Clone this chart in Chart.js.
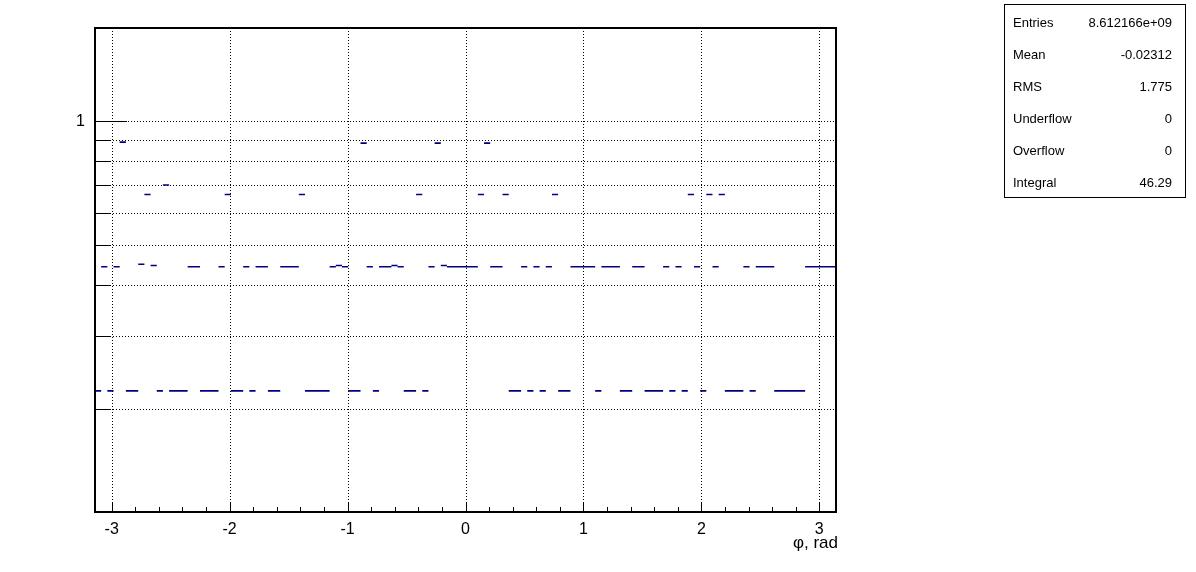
<!DOCTYPE html>
<html>
<head>
<meta charset="utf-8">
<script src="https://cdn.jsdelivr.net/npm/chart.js@4.4.1/dist/chart.umd.min.js"></script>
<style>
    body { margin: 0; background: #ffffff; }
    canvas { display: block; }
</style>
</head>
<body>
<canvas id="chart" width="1196" height="572"></canvas>
<script>
// Histogram binning: 120 bins over [-pi, pi]
const xMin = -Math.PI;
const xMax = Math.PI;
const nBins = 120;

// Bin contents (log y axis)
const binContents = [
    0.221, 0.443, 0.221, 0.443, 0.890, 0.221, 0.221, 0.449, 0.664, 0.446,
    0.221, 0.700, 0.221, 0.221, 0.221, 0.443, 0.443, 0.221, 0.221, 0.221,
    0.443, 0.664, 0.221, 0.221, 0.443, 0.221, 0.443, 0.443, 0.221, 0.221,
    0.443, 0.443, 0.443, 0.664, 0.221, 0.221, 0.221, 0.221, 0.443, 0.446,
    0.443, 0.221, 0.221, 0.885, 0.443, 0.221, 0.443, 0.443, 0.446, 0.443,
    0.221, 0.221, 0.664, 0.221, 0.443, 0.885, 0.446, 0.443, 0.443, 0.443,
    0.443, 0.443, 0.664, 0.885, 0.443, 0.443, 0.664, 0.221, 0.221, 0.443,
    0.221, 0.443, 0.221, 0.443, 0.664, 0.221, 0.221, 0.443, 0.443, 0.443,
    0.443, 0.221, 0.443, 0.443, 0.443, 0.221, 0.221, 0.443, 0.443, 0.221,
    0.221, 0.221, 0.443, 0.221, 0.443, 0.221, 0.664, 0.443, 0.221, 0.664,
    0.443, 0.664, 0.221, 0.221, 0.221, 0.443, 0.221, 0.443, 0.443, 0.443,
    0.221, 0.221, 0.221, 0.221, 0.221, 0.443, 0.443, 0.443, 0.443, 0.443
];

// Axis ticks
const xMajorTicks = [-3, -2, -1, 0, 1, 2, 3];
const xMinorStep = 0.2;
const yTicks = [0.2, 0.3, 0.4, 0.5, 0.6, 0.7, 0.8, 0.9, 1];
const yLabelled = [1];
const yMin = 0.1122;
const yMax = 1.686;
const xTitle = '\u03c6, rad';

// Stats box
const statsLabels = ['Entries', 'Mean', 'RMS', 'Underflow', 'Overflow', 'Integral'];
const statsValues = ['8.612166e+09', '-0.02312', '1.775', '0', '0', '46.29'];

const FONT = '"Liberation Sans", Arial, Helvetica, sans-serif';
const LINE_COLOR = '#000080';

// Each bin becomes a horizontal segment from its low edge to its high edge
const binWidth = (xMax - xMin) / nBins;
const segmentPoints = [];
binContents.forEach((v, i) => {
    if (!v) return;
    const lo = xMin + i * binWidth;
    const hi = lo + binWidth;
    segmentPoints.push({ x: lo, y: v }, { x: hi, y: v }, { x: hi, y: null });
});

// Frame, grid, ticks, stats box
const rootStyle = {
    id: 'rootStyle',
    beforeDatasetsDraw(chart) {
        const { ctx, chartArea: a, scales: { x, y } } = chart;
        ctx.save();
        ctx.strokeStyle = '#000';
        ctx.lineWidth = 1;
        ctx.setLineDash([1, 2]);
        xMajorTicks.forEach(t => {
            const px = Math.round(x.getPixelForValue(t)) + 0.5;
            ctx.beginPath();
            ctx.moveTo(px, a.top);
            ctx.lineTo(px, a.bottom);
            ctx.stroke();
        });
        yTicks.forEach(t => {
            const py = Math.round(y.getPixelForValue(t)) + 0.5;
            ctx.beginPath();
            ctx.moveTo(a.left, py);
            ctx.lineTo(a.right, py);
            ctx.stroke();
        });
        ctx.restore();
    },
    afterDraw(chart) {
        const { ctx, chartArea: a, scales: { x, y } } = chart;
        ctx.save();
        ctx.strokeStyle = '#000';
        ctx.setLineDash([]);

        // tick marks, inside the frame
        ctx.lineWidth = 1;
        ctx.beginPath();
        for (let t = -3; t <= 3.001; t += xMinorStep) {
            const px = Math.round(x.getPixelForValue(t)) + 0.5;
            const major = Math.abs(t - Math.round(t)) < 1e-6;
            ctx.moveTo(px, a.bottom);
            ctx.lineTo(px, a.bottom - (major ? 10 : 5));
        }
        yTicks.forEach(t => {
            const py = Math.round(y.getPixelForValue(t)) + 0.5;
            ctx.moveTo(a.left, py);
            ctx.lineTo(a.left + (yLabelled.includes(t) ? 32 : 16), py);
        });
        ctx.stroke();

        // frame
        ctx.lineWidth = 2;
        ctx.strokeRect(a.left, a.top, a.right - a.left, a.bottom - a.top);

        // axis title
        ctx.fillStyle = '#000';
        ctx.font = '17px ' + FONT;
        ctx.textAlign = 'right';
        ctx.textBaseline = 'alphabetic';
        ctx.fillText(xTitle, 838, 548);

        // stats box
        ctx.lineWidth = 1;
        ctx.fillStyle = '#fff';
        ctx.fillRect(1004.5, 4.5, 181, 193);
        ctx.strokeRect(1004.5, 4.5, 181, 193);
        ctx.fillStyle = '#000';
        ctx.font = '13px ' + FONT;
        ctx.textBaseline = 'middle';
        statsLabels.forEach((lab, i) => {
            const ty = 23 + i * 32;
            ctx.textAlign = 'left';
            ctx.fillText(lab, 1013, ty);
            ctx.textAlign = 'right';
            ctx.fillText(statsValues[i], 1172, ty);
        });
        ctx.restore();
    }
};

new Chart(document.getElementById('chart'), {
    type: 'line',
    data: {
        datasets: [{
            data: segmentPoints,
            borderColor: LINE_COLOR,
            borderWidth: 1.6,
            pointRadius: 0,
            spanGaps: false,
            tension: 0,
            fill: false
        }]
    },
    options: {
        responsive: false,
        animation: false,
        devicePixelRatio: 1,
        layout: { padding: { left: 0, top: 28, right: 360, bottom: 0 } },
        plugins: { legend: { display: false }, tooltip: { enabled: false } },
        scales: {
            x: {
                type: 'linear',
                min: xMin,
                max: xMax,
                afterBuildTicks: s => { s.ticks = xMajorTicks.map(v => ({ value: v })); },
                afterFit: s => { s.height = 60; },
                grid: { display: false, drawTicks: false },
                border: { display: false },
                ticks: {
                    color: '#000',
                    padding: 8,
                    maxRotation: 0,
                    autoSkip: false,
                    font: { family: FONT, size: 16 },
                    callback: v => String(v)
                }
            },
            y: {
                type: 'logarithmic',
                min: yMin,
                max: yMax,
                afterBuildTicks: s => { s.ticks = yTicks.map(v => ({ value: v })); },
                afterFit: s => { s.width = 95; },
                grid: { display: false, drawTicks: false },
                border: { display: false },
                ticks: {
                    color: '#000',
                    padding: 10,
                    autoSkip: false,
                    font: { family: FONT, size: 16 },
                    callback: v => (yLabelled.includes(v) ? String(v) : '')
                }
            }
        }
    },
    plugins: [rootStyle]
});
</script>
</body>
</html>
